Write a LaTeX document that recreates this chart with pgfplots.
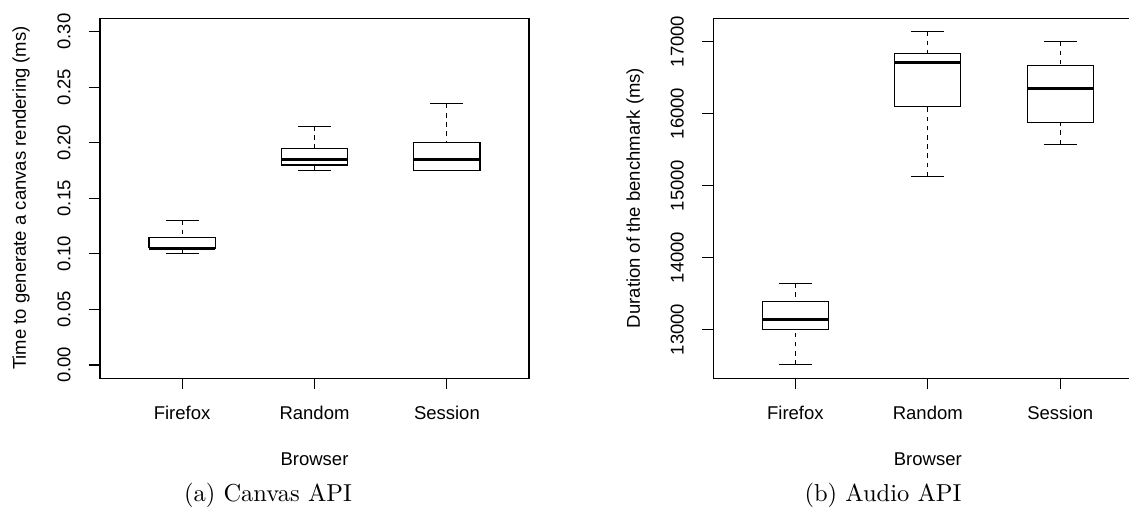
\documentclass[border=0pt]{standalone}
\usepackage{pgfplots}
\pgfplotsset{compat=1.18}
\usepackage{graphicx}
\usepackage{fontspec}
\newfontfamily\rsans{Liberation Sans}
\newcommand{\rfont}{\rsans\fontsize{18.5}{22}\selectfont}

\pgfplotsset{
  rbox/.style={
    scale only axis,
    anchor=south west,
    width=429pt, height=360pt,
    xmin=0.38, xmax=3.62,
    axis line style={line width=1.15pt},
    every tick/.style={line width=1.15pt, black},
    tick align=outside,
    major tick length=11pt,
    xtick pos=bottom, ytick pos=left,
    xtick={1,2,3},
    xticklabels={Firefox,Random,Session},
    tick label style={font=\rfont},
    /pgf/number format/assume math mode=true,
    xticklabel style={yshift=-14pt, text height=13pt},
    yticklabel style={rotate=90, anchor=south, yshift=15pt},
    scaled y ticks=false,
    unbounded coords=jump,
  },
  boxline/.style={black, line width=1.15pt, solid, no markers, line join=miter},
  medline/.style={black, line width=3.45pt, solid, no markers},
  whisk/.style={black, line width=1.15pt, no markers, dash pattern=on 4.6pt off 4.6pt},
}

\begin{document}
\begin{tikzpicture}
\begin{axis}[rbox,
  at={(100pt,128.7pt)},
  ymin=-0.012, ymax=0.312,
  ytick={0,0.05,0.10,0.15,0.20,0.25,0.30},
  yticklabel style={/pgf/number format/fixed, /pgf/number format/fixed zerofill, /pgf/number format/precision=2},
]
% whiskers (from whisker end to box)
\addplot[whisk] coordinates {
  (1,0.130) (1,0.115) (nan,nan) (1,0.100) (1,0.105) (nan,nan)
  (2,0.215) (2,0.195) (nan,nan) (2,0.175) (2,0.180) (nan,nan)
  (3,0.235) (3,0.200) (nan,nan) (3,0.175) (3,0.175)
};
% boxes: lower quartile to upper quartile
\addplot[boxline] coordinates {
  (0.75,0.105) (1.25,0.105) (1.25,0.115) (0.75,0.115) (0.75,0.105) (nan,nan)
  (1.75,0.180) (2.25,0.180) (2.25,0.195) (1.75,0.195) (1.75,0.180) (nan,nan)
  (2.75,0.175) (3.25,0.175) (3.25,0.200) (2.75,0.200) (2.75,0.175)
};
% medians
\addplot[medline] coordinates {
  (0.75,0.105) (1.25,0.105) (nan,nan)
  (1.75,0.185) (2.25,0.185) (nan,nan)
  (2.75,0.185) (3.25,0.185)
};
% staples (whisker caps)
\addplot[boxline] coordinates {
  (0.875,0.100) (1.125,0.100) (nan,nan)
  (0.875,0.130) (1.125,0.130) (nan,nan)
  (1.875,0.175) (2.125,0.175) (nan,nan)
  (1.875,0.215) (2.125,0.215) (nan,nan)
  (2.875,0.175) (3.125,0.175) (nan,nan)
  (2.875,0.235) (3.125,0.235)
};
\end{axis}

% values in thousands of ms (tick labels show ms)
\begin{axis}[rbox,
  at={(713.3pt,128.7pt)},
  ymin=12.322, ymax=17.322,
  ytick={13,14,15,16,17},
  yticklabels={13000,14000,15000,16000,17000},
]
\addplot[whisk] coordinates {
  (1,13.644) (1,13.389) (nan,nan) (1,12.509) (1,13.000) (nan,nan)
  (2,17.139) (2,16.833) (nan,nan) (2,15.125) (2,16.093) (nan,nan)
  (3,17.000) (3,16.662) (nan,nan) (3,15.574) (3,15.880)
};
\addplot[boxline] coordinates {
  (0.75,13.000) (1.25,13.000) (1.25,13.389) (0.75,13.389) (0.75,13.000) (nan,nan)
  (1.75,16.093) (2.25,16.093) (2.25,16.833) (1.75,16.833) (1.75,16.093) (nan,nan)
  (2.75,15.880) (3.25,15.880) (3.25,16.662) (2.75,16.662) (2.75,15.880)
};
\addplot[medline] coordinates {
  (0.75,13.139) (1.25,13.139) (nan,nan)
  (1.75,16.708) (2.25,16.708) (nan,nan)
  (2.75,16.345) (3.25,16.345)
};
\addplot[boxline] coordinates {
  (0.875,12.509) (1.125,12.509) (nan,nan)
  (0.875,13.644) (1.125,13.644) (nan,nan)
  (1.875,15.125) (2.125,15.125) (nan,nan)
  (1.875,17.139) (2.125,17.139) (nan,nan)
  (2.875,15.574) (3.125,15.574) (nan,nan)
  (2.875,17.000) (3.125,17.000)
};
\end{axis}

% axis titles (R style)
\node[font=\rfont, rotate=90, anchor=center] at (21pt,309pt) {Time to generate a canvas rendering (ms)};
\node[font=\rfont, anchor=center] at (314.5pt,48pt) {Browser};
\node[font=\rfont, rotate=90, anchor=center] at (635pt,309pt) {Duration of the benchmark (ms)};
\node[font=\rfont, anchor=center] at (927.8pt,48pt) {Browser};

\node[anchor=base] at (268pt,6pt) {\scalebox{2.45}{\fontsize{10}{12}\selectfont (a) Canvas API}};
\node[anchor=base] at (883pt,6pt) {\scalebox{2.45}{\fontsize{10}{12}\selectfont (b) Audio API}};

\pgfresetboundingbox
\useasboundingbox (0pt,0pt) rectangle (1129pt,507pt);
\end{tikzpicture}
\end{document}
